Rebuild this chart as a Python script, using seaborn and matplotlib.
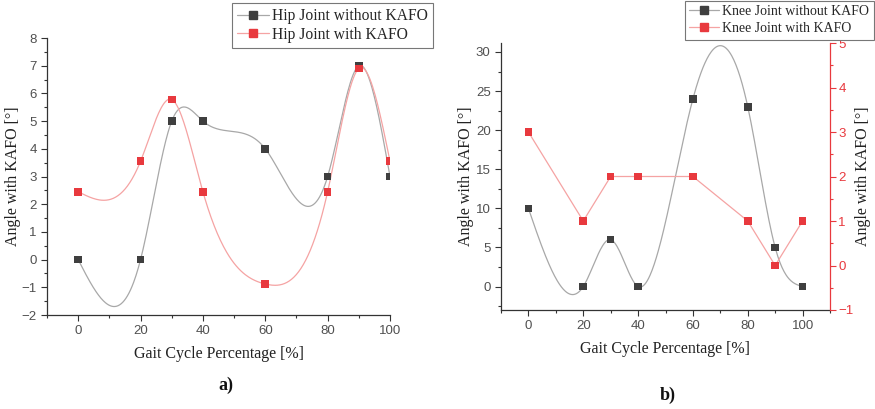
import numpy as np
import pandas as pd
import matplotlib
matplotlib.use("Agg")
import matplotlib.pyplot as plt
from matplotlib.lines import Line2D
from matplotlib.ticker import MultipleLocator
import seaborn as sns

sns.set_theme(style="ticks")
plt.rcParams['font.family'] = ['Liberation Sans', 'DejaVu Sans']

# ---- data ----
gait_pct = [0, 20, 30, 40, 60, 80, 90, 100]
hip_without = [0, 0, 5, 5, 4, 3, 7, 3]
hip_with = [2.45, 3.55, 5.78, 2.45, -0.88, 2.45, 6.9, 3.55]
knee_without = [10, 0, 6, 0, 24, 23, 5, 0]
knee_with = [3, 1, 2, 2, 2, 1, 0, 1]

BLACK_M = "#3f3f3f"
BLACK_L = "#a8a8a8"
RED_M = "#e8393e"
RED_L = "#f5a3a3"
TICK_C = "#505050"
SERIF = ['Liberation Serif', 'DejaVu Serif']


def natural_spline(x, y, n=400):
    x = np.asarray(x, float)
    y = np.asarray(y, float)
    k = len(x)
    h = np.diff(x)
    A = np.zeros((k, k))
    b = np.zeros(k)
    A[0, 0] = 1
    A[-1, -1] = 1
    for i in range(1, k - 1):
        A[i, i - 1] = h[i - 1]
        A[i, i] = 2 * (h[i - 1] + h[i])
        A[i, i + 1] = h[i]
        b[i] = 6 * ((y[i + 1] - y[i]) / h[i] - (y[i] - y[i - 1]) / h[i - 1])
    M = np.linalg.solve(A, b)
    xs = np.linspace(x[0], x[-1], n)
    ys = np.empty_like(xs)
    for j, xv in enumerate(xs):
        i = min(np.searchsorted(x, xv, side='right') - 1, k - 2)
        t1 = x[i + 1] - xv
        t0 = xv - x[i]
        ys[j] = (M[i] * t1 ** 3 / (6 * h[i]) + M[i + 1] * t0 ** 3 / (6 * h[i])
                 + (y[i] / h[i] - M[i] * h[i] / 6) * t1
                 + (y[i + 1] / h[i] - M[i + 1] * h[i] / 6) * t0)
    return pd.DataFrame({"x": xs, "y": ys})


def style_axis(ax, color=TICK_C):
    for s in ["top", "right"]:
        ax.spines[s].set_visible(False)
    for s in ["left", "bottom"]:
        ax.spines[s].set_color("#333333")
        ax.spines[s].set_linewidth(0.9)
    ax.tick_params(which="major", direction="out", length=4, width=0.8,
                   colors="#333333", labelcolor=color, labelsize=9.5)
    ax.tick_params(which="minor", direction="out", length=2.5, width=0.8, colors="#333333")


def handles():
    return [Line2D([], [], color=BLACK_L, lw=0.9, marker="s", markersize=5.5,
                   markerfacecolor=BLACK_M, markeredgecolor=BLACK_M),
            Line2D([], [], color=RED_L, lw=0.9, marker="s", markersize=5.5,
                   markerfacecolor=RED_M, markeredgecolor=RED_M)]


fig = plt.figure(figsize=(8.75, 4.09), dpi=100)

# ---- panel a ----
axa = fig.add_axes([47 / 875, 1 - 315 / 409, (390 - 47) / 875, (315 - 38) / 409])
sp = natural_spline(gait_pct, hip_without)
sns.lineplot(data=sp, x="x", y="y", ax=axa, color=BLACK_L, lw=0.9, sort=False)
sp = natural_spline(gait_pct, hip_with)
sns.lineplot(data=sp, x="x", y="y", ax=axa, color=RED_L, lw=0.9, sort=False)
sns.scatterplot(x=gait_pct, y=hip_without, ax=axa, marker="s", color=BLACK_M,
                s=30, edgecolor="none", zorder=5)
sns.scatterplot(x=gait_pct, y=hip_with, ax=axa, marker="s", color=RED_M,
                s=30, edgecolor="none", zorder=6)
axa.set_xlim(-10, 100)
axa.set_ylim(-2, 8)
axa.xaxis.set_major_locator(MultipleLocator(20))
axa.xaxis.set_minor_locator(MultipleLocator(10))
axa.yaxis.set_major_locator(MultipleLocator(1))
axa.yaxis.set_minor_locator(MultipleLocator(0.5))
style_axis(axa)
axa.set_xticks([0, 20, 40, 60, 80, 100])
axa.set_xlabel("Gait Cycle Percentage [%]", family=SERIF, fontsize=11.5, color="#222222", labelpad=6)
axa.set_ylabel("Angle with KAFO [°]", family=SERIF, fontsize=11.5, color="#222222")
axa.yaxis.set_label_coords(-0.075, 0.5)

leg = fig.legend(handles(), ["Hip Joint without KAFO", "Hip Joint with KAFO"],
                 loc="upper left", bbox_to_anchor=(232 / 875, 1 - 3 / 409),
                 frameon=True, fancybox=False, edgecolor="#777777", framealpha=1,
                 prop={"family": SERIF, "size": 11.2}, handlelength=2.0,
                 handletextpad=0.2, borderpad=0.35, labelspacing=0.15, borderaxespad=0)
leg.get_frame().set_linewidth(0.8)

# ---- panel b ----
axb = fig.add_axes([501 / 875, 1 - 310 / 409, (830 - 501) / 875, (310 - 43) / 409])
sp = natural_spline(gait_pct, knee_without)
sns.lineplot(data=sp, x="x", y="y", ax=axb, color=BLACK_L, lw=0.9, sort=False)
sns.scatterplot(x=gait_pct, y=knee_without, ax=axb, marker="s", color=BLACK_M,
                s=30, edgecolor="none", zorder=5)
axb.set_xlim(-10, 110)
axb.set_ylim(-3, 31.15)
axb.xaxis.set_major_locator(MultipleLocator(20))
axb.xaxis.set_minor_locator(MultipleLocator(10))
axb.yaxis.set_major_locator(MultipleLocator(5))
axb.yaxis.set_minor_locator(MultipleLocator(2.5))
style_axis(axb)
axb.set_xticks([0, 20, 40, 60, 80, 100])
axb.set_xlabel("Gait Cycle Percentage [%]", family=SERIF, fontsize=11.5, color="#222222", labelpad=6)
axb.set_ylabel("Angle with KAFO [°]", family=SERIF, fontsize=11.5, color="#222222")
axb.yaxis.set_label_coords(-0.082, 0.5)

axr = axb.twinx()
kdf = pd.DataFrame({"x": gait_pct, "y": knee_with})
sns.lineplot(data=kdf, x="x", y="y", ax=axr, color=RED_L, lw=0.9, sort=False)
sns.scatterplot(x=gait_pct, y=knee_with, ax=axr, marker="s", color=RED_M,
                s=30, edgecolor="none", zorder=6)
axr.set_ylim(-1, 5)
axr.yaxis.set_major_locator(MultipleLocator(1))
axr.yaxis.set_minor_locator(MultipleLocator(0.5))
for s in ["top", "left", "bottom"]:
    axr.spines[s].set_visible(False)
axr.spines["right"].set_color(RED_M)
axr.spines["right"].set_linewidth(0.9)
axr.tick_params(which="major", direction="out", length=4, width=0.8, pad=2,
                colors=RED_M, labelsize=9.5)
axr.tick_params(which="minor", direction="out", length=2.5, width=0.8, colors=RED_M)
axr.set_ylabel("Angle with KAFO [°]", family=SERIF, fontsize=11.5, color="#222222")
axr.yaxis.set_label_coords(1.075, 0.5)
axr.set_xlabel("")

leg2 = fig.legend(handles(), ["Knee Joint without KAFO", "Knee Joint with KAFO"],
                  loc="upper left", bbox_to_anchor=(685 / 875, 1 - 1 / 409),
                  frameon=True, fancybox=False, edgecolor="#777777", framealpha=1,
                  prop={"family": SERIF, "size": 10}, handlelength=2.15,
                  handletextpad=0.25, borderpad=0.3, labelspacing=0.3, borderaxespad=0)
leg2.get_frame().set_linewidth(0.8)

fig.text(226 / 875, 1 - 385 / 409, "a)", family=SERIF, fontsize=13, weight="bold",
         ha="center", va="center", color="#111111")
fig.text(668 / 875, 1 - 395 / 409, "b)", family=SERIF, fontsize=13, weight="bold",
         ha="center", va="center", color="#111111")

fig.savefig("out.png", dpi=100, facecolor="white")
